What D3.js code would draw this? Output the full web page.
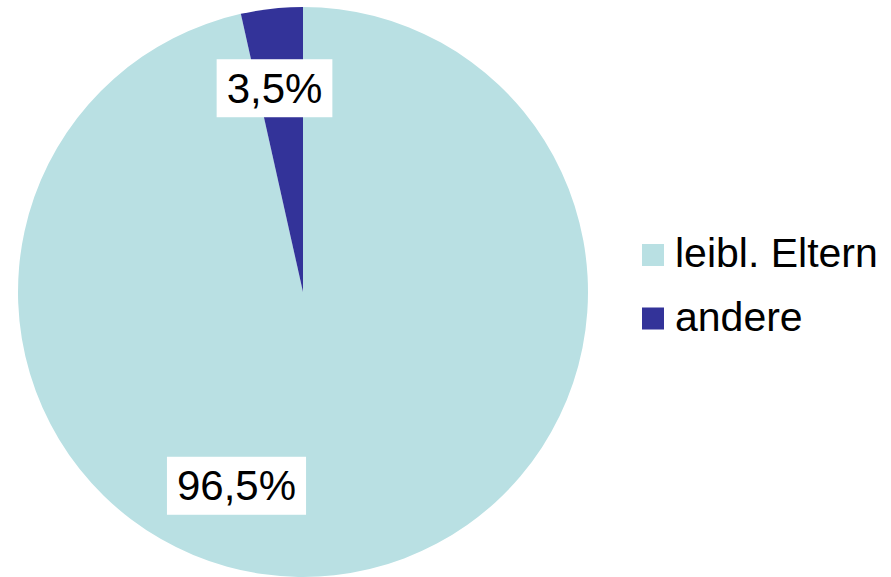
<!DOCTYPE html>
<html>
<head>
<meta charset="utf-8">
<script src="https://cdn.jsdelivr.net/npm/d3@7"></script>
<style>
  html, body { margin: 0; padding: 0; background: #fff; }
  svg { display: block; font-family: "Liberation Sans", Arial, sans-serif; }
</style>
</head>
<body>
<svg id="chart" width="891" height="577"></svg>
<script>
// Categories and their shares (percent)
const categories = ["leibl. Eltern", "andere"];
const values = [96.5, 3.5];
const labelTexts = ["96,5%", "3,5%"];
const colors = ["#B9E0E3", "#333399"];
// Label nudges relative to the slice centroid
const labelShift = [[-89, -10], [-6, 0]];

const svg = d3.select("#chart");
const cx = 303, cy = 292, radius = 285;

const pie = d3.pie().sort(null).value(d => d)(values);
const arc = d3.arc().innerRadius(0).outerRadius(radius);
const labelArc = d3.arc().innerRadius(205).outerRadius(205);

const g = svg.append("g").attr("transform", `translate(${cx},${cy})`);

g.selectAll("path.slice")
  .data(pie)
  .join("path")
  .attr("class", "slice")
  .attr("d", arc)
  .attr("fill", (d, i) => colors[i]);

// Value labels in white boxes
const lab = g.selectAll("g.lab")
  .data(pie)
  .join("g")
  .attr("class", "lab")
  .attr("transform", (d, i) => {
    const [x, y] = labelArc.centroid(d);
    return `translate(${x + labelShift[i][0]},${y + labelShift[i][1]})`;
  });

lab.each(function(d, i) {
  const sel = d3.select(this);
  const t = sel.append("text")
    .attr("text-anchor", "middle")
    .attr("dy", "0.35em")
    .attr("font-size", 42)
    .attr("fill", "#000")
    .text(labelTexts[i]);
  const bb = t.node().getBBox();
  const padX = 10;
  sel.insert("rect", "text")
    .attr("x", bb.x - padX)
    .attr("y", -29)
    .attr("width", bb.width + padX * 2)
    .attr("height", 58)
    .attr("fill", "#fff");
});

// Legend
const legend = svg.append("g").attr("transform", "translate(642,244)");
const items = legend.selectAll("g.item")
  .data(categories)
  .join("g")
  .attr("class", "item")
  .attr("transform", (d, i) => `translate(0,${i * 63.5})`);

items.append("rect")
  .attr("width", 22)
  .attr("height", 22)
  .attr("fill", (d, i) => colors[i]);

items.append("text")
  .attr("x", 33)
  .attr("y", 23)
  .attr("font-size", 41)
  .attr("fill", "#000")
  .text(d => d);
</script>
</body>
</html>
